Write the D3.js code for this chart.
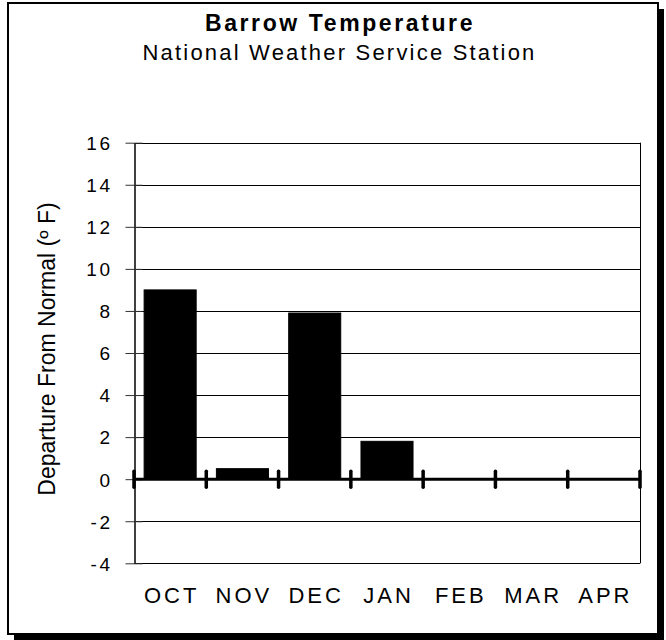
<!DOCTYPE html>
<html>
<head>
<meta charset="utf-8">
<script src="https://cdn.jsdelivr.net/npm/d3@7"></script>
<style>
  body { margin: 0; background: #fff; }
  svg { display: block; }
  text { font-family: "Liberation Sans", Arial, sans-serif; fill: #000; }
</style>
</head>
<body>
<div id="chart"></div>
<script>
// Chart data
var months = ["OCT", "NOV", "DEC", "JAN", "FEB", "MAR", "APR"];
var departures = [9.0, 0.5, 7.9, 1.8, null, null, null];
var yTicks = [-4, -2, 0, 2, 4, 6, 8, 10, 12, 14, 16];
var yTickLabels = ["-4", "-2", "0", "2", "4", "6", "8", "10", "12", "14", "16"];
var titleText = "Barrow Temperature";
var subtitleText = "National Weather Service Station";
var yLabelText = "Departure From Normal (\u00ba F)";

var chartOptions = {
	width: 666,
	height: 640,
	plotLeft: 134,
	plotRight: 640,
	plotTop: 142.7,
	plotBottom: 563.3
}

var svg = d3.select("#chart")
	.append("svg")
	.attr("width", chartOptions.width)
	.attr("height", chartOptions.height);

// Frame with drop shadow
svg.append("rect")
	.attr("x", 14)
	.attr("y", 9)
	.attr("width", 650)
	.attr("height", 631)
	.attr("fill", "#000");

svg.append("rect")
	.attr("x", 8)
	.attr("y", 3)
	.attr("width", 650)
	.attr("height", 631)
	.attr("fill", "#fff")
	.attr("stroke", "#000")
	.attr("stroke-width", 2);

// Scales
var x = d3.scaleBand()
	.domain(months)
	.range([chartOptions.plotLeft, chartOptions.plotRight])
	.paddingInner(0.28)
	.paddingOuter(0.14);

var y = d3.scaleLinear()
	.domain([d3.min(yTicks), d3.max(yTicks)])
	.range([chartOptions.plotBottom, chartOptions.plotTop]);

// Gridlines (also close the plot box on top and bottom)
svg.append("g")
	.selectAll("line")
	.data(yTicks.filter(function(d) { return d !== 0; }))
	.join("line")
	.attr("x1", chartOptions.plotLeft)
	.attr("x2", chartOptions.plotRight)
	.attr("y1", function(d) { return Math.round(y(d)) + 0.5; })
	.attr("y2", function(d) { return Math.round(y(d)) + 0.5; })
	.attr("stroke", "#000")
	.attr("stroke-width", 1);

// Right border of plot
svg.append("line")
	.attr("x1", chartOptions.plotRight + 0.5)
	.attr("x2", chartOptions.plotRight + 0.5)
	.attr("y1", y(16))
	.attr("y2", y(-4))
	.attr("stroke", "#000");

// Y axis
var yAxis = d3.axisLeft(y)
	.tickValues(yTicks)
	.tickSize(0)
	.tickPadding(0)
	.tickFormat(function(d, i) { return yTickLabels[i]; });

var yAxisGroup = svg.append("g")
	.attr("transform", "translate(" + (chartOptions.plotLeft + 0.5) + ",0)")
	.call(yAxis);

yAxisGroup.select(".domain")
	.attr("stroke", "#000")
	.attr("stroke-width", 1.5);

yAxisGroup.selectAll(".tick line")
	.attr("x1", -9)
	.attr("x2", 8)
	.attr("stroke", "#333")
	.attr("stroke-width", 1);

yAxisGroup.selectAll(".tick text")
	.attr("x", -22)
	.attr("dy", "0.36em")
	.attr("font-size", 19)
	.attr("letter-spacing", 2.5)
	.attr("font-family", "Liberation Sans, Arial, sans-serif")
	.attr("text-anchor", "end");

// Bars
svg.append("g")
	.selectAll("rect")
	.data(months.map(function(m, i) { return { month: m, value: departures[i] }; })
		.filter(function(d) { return d.value !== null; }))
	.join("rect")
	.attr("x", function(d) { return x(d.month); })
	.attr("y", function(d) { return y(d.value); })
	.attr("width", x.bandwidth())
	.attr("height", function(d) { return y(0) - y(d.value); })
	.attr("fill", "#000")
	.attr("stroke", "#000")
	.attr("stroke-width", 1);

// Zero line with category tick marks
svg.append("line")
	.attr("x1", chartOptions.plotLeft)
	.attr("x2", chartOptions.plotRight)
	.attr("y1", y(0))
	.attr("y2", y(0))
	.attr("stroke", "#000")
	.attr("stroke-width", 3);

var boundaries = months.map(function(m) { return x(m) - x.step() * x.paddingInner() / 2; });
boundaries.push(chartOptions.plotRight);

svg.append("g")
	.selectAll("line")
	.data(boundaries)
	.join("line")
	.attr("x1", function(d) { return d; })
	.attr("x2", function(d) { return d; })
	.attr("y1", y(0) - 8)
	.attr("y2", y(0) + 8)
	.attr("stroke", "#000")
	.attr("stroke-width", 3.5)
	.attr("stroke-linecap", "round");

// Category labels
svg.append("g")
	.selectAll("text")
	.data(months)
	.join("text")
	.attr("x", function(d) { return x(d) + x.bandwidth() / 2 + 1.5; })
	.attr("y", 603)
	.attr("text-anchor", "middle")
	.attr("font-size", 22)
	.attr("letter-spacing", 3)
	.text(function(d) { return d; });

// Y axis title
svg.append("text")
	.attr("transform", "translate(55,349) rotate(-90)")
	.attr("text-anchor", "middle")
	.attr("font-size", 23)
	.text(yLabelText);

// Titles
svg.append("text")
	.attr("x", 340)
	.attr("y", 31)
	.attr("text-anchor", "middle")
	.attr("font-size", 23)
	.attr("font-weight", "bold")
	.attr("letter-spacing", 2.6)
	.text(titleText);

svg.append("text")
	.attr("x", 339.5)
	.attr("y", 59.5)
	.attr("text-anchor", "middle")
	.attr("font-size", 22)
	.attr("letter-spacing", 2.2)
	.text(subtitleText);
</script>
</body>
</html>
